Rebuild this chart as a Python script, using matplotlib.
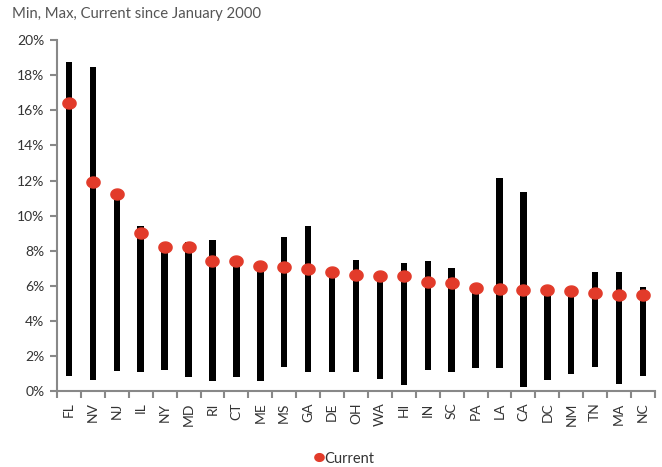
import numpy as np
import matplotlib
matplotlib.use('Agg')
import matplotlib.pyplot as plt
from matplotlib.path import Path
from matplotlib.ticker import FuncFormatter, FixedLocator

plt.rcParams['font.family'] = ['Lato', 'DejaVu Sans']

states = ['FL', 'NV', 'NJ', 'IL', 'NY', 'MD', 'RI', 'CT', 'ME', 'MS', 'GA', 'DE', 'OH',
          'WA', 'HI', 'IN', 'SC', 'PA', 'LA', 'CA', 'DC', 'NM', 'TN', 'MA', 'NC']
max_rate = [18.75, 18.45, 11.2, 9.4, 8.2, 8.5, 8.6, 7.4, 7.1, 8.8, 9.43, 6.75, 7.5,
            6.55, 7.33, 7.45, 7.0, 5.85, 12.15, 11.35, 5.7, 5.65, 6.8, 6.8, 5.97]
min_rate = [0.9, 0.63, 1.15, 1.1, 1.25, 0.8, 0.57, 0.85, 0.57, 1.42, 1.1, 1.1, 1.13,
            0.7, 0.35, 1.2, 1.1, 1.36, 1.36, 0.28, 0.63, 1.0, 1.42, 0.45, 0.9]
current = [16.4, 11.9, 11.25, 9.0, 8.25, 8.25, 7.45, 7.45, 7.15, 7.1, 6.95, 6.8, 6.65,
           6.6, 6.55, 6.25, 6.2, 5.9, 5.85, 5.8, 5.75, 5.7, 5.6, 5.5, 5.5]

x = np.arange(len(states))
lo = np.array(min_rate)
hi = np.array(max_rate)

fig = plt.figure(figsize=(6.62, 4.67), dpi=100)
ax = fig.add_axes([0.0861, 0.1617, 0.9033, 0.7526])

# min-max range bars
ax.bar(x, hi - lo, bottom=lo, width=0.27, color='black', zorder=2)

# slightly flattened dot for current value
t = np.linspace(0, 2 * np.pi, 60)
ellipse = Path(np.column_stack([1.2 * np.cos(t), np.sin(t)]))
ax.plot(x, current, linestyle='none', marker=ellipse, ms=9.5, color='#E23B2A',
        label='Current', zorder=3)

ax.set_xlim(-0.5, len(states) - 0.5)
ax.set_ylim(0, 20)
ax.set_yticks(np.arange(0, 21, 2))
ax.yaxis.set_major_formatter(FuncFormatter(lambda v, p: '{:d}%'.format(int(v))))
ax.set_xticks(x)
ax.set_xticklabels(states, rotation=90)
ax.xaxis.set_minor_locator(FixedLocator(np.arange(-0.5, len(states), 1)))
ax.tick_params(axis='x', which='major', length=0, pad=8)
ax.tick_params(axis='x', which='minor', length=5, width=1.5, color='#888888')
ax.tick_params(axis='y', length=5, width=1.5, color='#888888', pad=4)
ax.tick_params(labelsize=10, labelcolor='#333333')

for s in ['top', 'right']:
    ax.spines[s].set_visible(False)
for s in ['left', 'bottom']:
    ax.spines[s].set_color('#888888')
    ax.spines[s].set_linewidth(1.5)

fig.text(0.018, 0.985, 'Min, Max, Current since January 2000', fontsize=10.7,
         color='#555555', va='top', ha='left')

fig.legend(loc='lower center', bbox_to_anchor=(0.52, -0.025), frameon=False,
           fontsize=10.5, handlelength=0.6, handletextpad=0.1, markerscale=0.7,
           labelcolor='#333333')

fig.savefig('out.png', dpi=100)
